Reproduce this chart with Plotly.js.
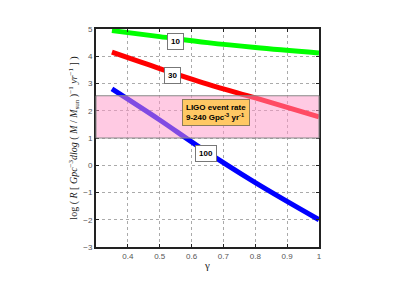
<!DOCTYPE html>
<html><head><meta charset="utf-8">
<script src="https://cdn.plot.ly/plotly-3.0.1.min.js"></script>
<style>html,body{margin:0;padding:0;background:#fff}</style>
</head><body><div id="chart" style="width:414px;height:292px"></div>
<script>
const gamma = [0.35, 0.5, 0.65, 0.8, 1.0];
const rate10 = [4.94, 4.72, 4.5, 4.32, 4.12];
const rate30 = [4.15, 3.55, 2.98, 2.47, 1.78];
const gamma100 = [0.35, 0.5, 0.62, 0.8, 1.0];
const rate100 = [2.8, 1.66, 0.7, -0.64, -2.0];
const xTicks = [0.4, 0.5, 0.6, 0.7, 0.8, 0.9, 1];
const ligoBand = [1.0, 2.55];
const labels = [
  {x: 0.551, y: 4.55, text: "10"},
  {x: 0.541, y: 3.28, text: "30"},
  {x: 0.646, y: 0.44, text: "100"}
];
const ligoText = "LIGO event rate<br>9-240 Gpc<sup>-3</sup> yr<sup>-1</sup>";
const ligoPos = {x: 0.678, y: 1.94};

const traces = [
  {x: gamma, y: rate10, mode: 'lines', line: {color: '#00ff00', width: 5, shape: 'spline'}},
  {x: gamma, y: rate30, mode: 'lines', line: {color: '#ff0000', width: 5, shape: 'spline'}},
  {x: gamma100, y: rate100, mode: 'lines', line: {color: '#0000ff', width: 5, shape: 'spline'}}
];
const annotations = labels.map(l => ({
  x: l.x, y: l.y, text: '<b>' + l.text + '</b>', showarrow: false,
  bgcolor: '#ffffff', bordercolor: '#777', borderwidth: 1, borderpad: 3,
  font: {family: 'Arial', size: 8, color: '#000'}
}));
annotations.push({
  x: ligoPos.x, y: ligoPos.y, text: '<b>' + ligoText + '</b>', showarrow: false, align: 'left',
  bgcolor: '#ffc864', bordercolor: '#8a7a5a', borderwidth: 1, borderpad: 3,
  font: {family: 'Arial', size: 8, color: '#000'}
});
const axisCommon = {
  showline: true, mirror: 'ticks', linecolor: '#222', linewidth: 2,
  ticks: 'inside', ticklen: 3, tickcolor: '#222',
  showgrid: true, gridcolor: '#aaa', griddash: 'dot', gridwidth: 1,
  zeroline: false, tickfont: {family: 'Arial', size: 8, color: '#555'}
};
const layout = {
  width: 414, height: 292, showlegend: false,
  margin: {l: 96, r: 95, t: 29, b: 45},
  paper_bgcolor: '#fff', plot_bgcolor: '#fff',
  xaxis: Object.assign({}, axisCommon, {range: [0.3, 1.0], tickmode: 'array', tickvals: xTicks,
    title: {text: 'γ', font: {family: 'Liberation Serif', size: 11, color: '#222'}, standoff: 2}}),
  yaxis: Object.assign({}, axisCommon, {range: [-3, 5], dtick: 1,
    title: {text: 'log ( <i>R</i> [ <i>Gpc</i><sup>−3</sup><i>dlog</i> ( <i>M</i> / <i>M</i><sub>sun</sub> )<sup>−1</sup> <i>yr</i><sup>−1</sup> ] )',
      font: {family: 'Liberation Serif', size: 10, color: '#222'}, standoff: 4}}),
  shapes: [{type: 'rect', xref: 'paper', x0: 0, x1: 1, yref: 'y', y0: ligoBand[0], y1: ligoBand[1],
    fillcolor: 'rgba(255,150,200,0.5)', line: {color: '#888', width: 1}, layer: 'above'}],
  annotations: annotations
};
Plotly.newPlot('chart', traces, layout, {displayModeBar: false, staticPlot: true});
</script></body></html>
